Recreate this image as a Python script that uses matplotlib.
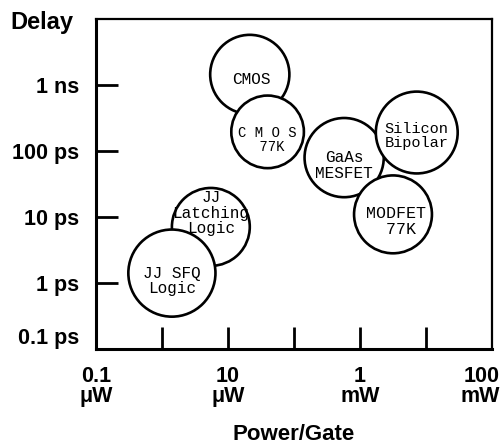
import matplotlib
matplotlib.use("Agg")
import matplotlib.pyplot as plt
from matplotlib.patches import Circle
from matplotlib.transforms import ScaledTranslation

# technologies: log10(power per gate, W), log10(delay, s), spread radius in decades
techs = ["CMOS", "CMOS 77K", "GaAs MESFET", "Silicon Bipolar",
         "MODFET 77K", "JJ Latching Logic", "JJ SFQ Logic"]
labels = ["CMOS", "C M O S\n 77K", "GaAs\nMESFET", "Silicon\nBipolar",
          "MODFET\n 77K", "JJ\nLatching\nLogic", "JJ SFQ\nLogic"]
power_log = [-4.67, -4.40, -3.24, -2.14, -2.50, -5.26, -5.85]
delay_log = [-8.84, -9.71, -10.10, -9.72, -10.96, -11.15, -11.85]
spread = [0.60, 0.55, 0.60, 0.62, 0.59, 0.59, 0.66]

xtick_pos = [-7, -6, -5, -4, -3, -2, -1]
xtick_lab = ["0.1\n\u03bcW", "", "10\n\u03bcW", "", "1\nmW", "", "100\nmW"]
ytick_pos = [-13, -12, -11, -10, -9]
ytick_lab = ["0.1 ps", "1 ps", "10 ps", "100 ps", "1 ns"]

# text offset from circle centre (decades) and font size
text_dy = [-0.07, -0.12, -0.12, -0.05, -0.11, 0.21, -0.12]
text_dx = [0.02, 0.0, 0.0, 0.0, 0.04, 0.0, 0.0]
text_fs = [11.5, 10, 11.5, 11, 12, 11.5, 11.5]

sans = ["Liberation Sans", "DejaVu Sans"]
mono = ["Liberation Mono", "DejaVu Sans Mono"]

fig = plt.figure(figsize=(5.02, 4.43), dpi=100)
ax = fig.add_axes([96 / 502, 1 - 349 / 443, 396 / 502, 330 / 443])
ax.set_xlim(-7, -1)
ax.set_ylim(-13, -8)

for i in range(len(techs)):
    c = Circle((power_log[i], delay_log[i]), spread[i], facecolor="white",
               edgecolor="black", linewidth=1.9, zorder=2 + i)
    ax.add_patch(c)
    ax.text(power_log[i] + text_dx[i], delay_log[i] + text_dy[i], labels[i],
            ha="center", va="center", fontsize=text_fs[i], family=mono,
            linespacing=1.05, zorder=2.5 + i)

for s in ax.spines.values():
    s.set_linewidth(1.6)
ax.spines["left"].set_linewidth(2.2)
ax.spines["bottom"].set_linewidth(2.2)

ax.set_xticks(xtick_pos)
ax.set_xticklabels(xtick_lab)
ax.set_yticks(ytick_pos)
ax.set_yticklabels(ytick_lab)
ax.tick_params(direction="in", length=16, width=2.0, pad=12)

# no marks where the ticks fall on the frame
xt = ax.xaxis.get_major_ticks()
xt[0].tick1line.set_visible(False)
xt[-1].tick1line.set_visible(False)
ax.yaxis.get_major_ticks()[0].tick1line.set_visible(False)

for t in ax.get_xticklabels() + ax.get_yticklabels():
    t.set_family(sans)
    t.set_fontweight("bold")
    t.set_fontsize(15.5)
for t in ax.get_xticklabels():
    t.set_linespacing(0.95)
last = ax.get_xticklabels()[-1]
last.set_ha("right")
last.set_transform(last.get_transform() + ScaledTranslation(0.08, 0, fig.dpi_scale_trans))
ax.get_yticklabels()[0].set_va("bottom")

fig.text(10 / 502, 1 - 22 / 443, "Delay", ha="left", va="center",
         fontsize=17, fontweight="bold", family=sans)
fig.text(294 / 502, 1 - 434 / 443, "Power/Gate", ha="center", va="center",
         fontsize=16, fontweight="bold", family=sans)

fig.savefig("out.png", dpi=100)
